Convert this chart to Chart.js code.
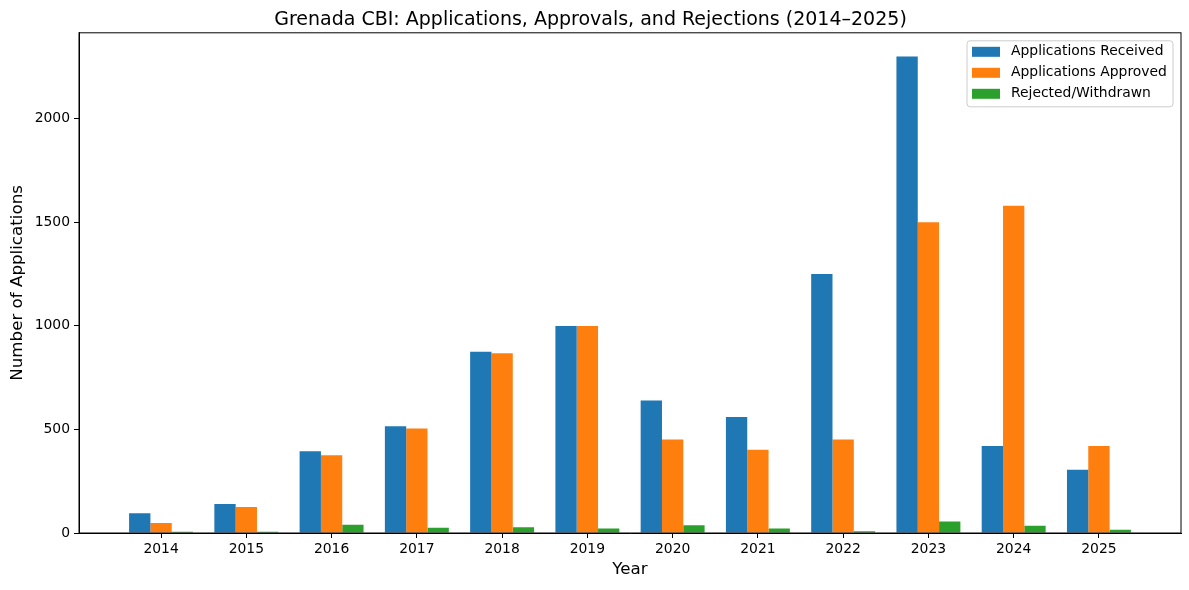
<!DOCTYPE html>
<html lang="en">
<head>
  <meta charset="UTF-8">
  <title>Grenada CBI</title>
  <style>
    body { margin: 0; background: #fff; }
    .chart-box { width: 1189px; height: 590px; }
  </style>
</head>
<body>
  <div class="chart-box">
    <canvas id="barChart"></canvas>
  </div>
  <script src="https://cdn.jsdelivr.net/npm/chart.js"></script>
  <script>
    // data
    const years = ['2014', '2015', '2016', '2017', '2018', '2019', '2020', '2021', '2022', '2023', '2024', '2025'];
    const received = [95, 140, 395, 515, 875, 1000, 640, 560, 1250, 2300, 420, 305];
    const approved = [48, 125, 375, 505, 868, 1000, 452, 402, 452, 1500, 1580, 420];
    const rejected = [6, 6, 40, 25, 28, 22, 38, 22, 8, 55, 35, 16];
    const yTicks = [0, 500, 1000, 1500, 2000];

    const toPoints = arr => arr.map((v, i) => ({ x: i, y: v }));
    const font = { family: 'DejaVu Sans', size: 13.9 };

    // frame around plot + legend inside the plot (top right)
    const frameAndLegend = {
      id: 'frameAndLegend',
      afterDatasetsDraw(chart) {
        const { ctx, chartArea: a } = chart;
        ctx.save();
        ctx.strokeStyle = '#000';
        ctx.lineWidth = 1;
        ctx.strokeRect(a.left, a.top, a.right - a.left, a.bottom - a.top);

        const w = 206, h = 66;
        const x = a.right - 8 - w, y = a.top + 8;
        ctx.beginPath();
        ctx.roundRect(x, y, w, h, 3);
        ctx.fillStyle = 'rgba(255,255,255,0.8)';
        ctx.fill();
        ctx.strokeStyle = '#cccccc';
        ctx.stroke();

        ctx.font = '13.9px "DejaVu Sans"';
        ctx.textBaseline = 'middle';
        chart.data.datasets.forEach((ds, i) => {
          const cy = y + 11 + i * 21;
          ctx.fillStyle = ds.backgroundColor;
          ctx.fillRect(x + 5, cy - 5, 28, 10);
          ctx.fillStyle = '#000';
          ctx.fillText(ds.label, x + 44, cy);
        });
        ctx.restore();
      }
    };

    const barCtx = document.getElementById('barChart').getContext('2d');
    new Chart(barCtx, {
      type: 'bar',
      data: {
        datasets: [
          { label: 'Applications Received', data: toPoints(received), backgroundColor: '#1f77b4' },
          { label: 'Applications Approved', data: toPoints(approved), backgroundColor: '#ff7f0e' },
          { label: 'Rejected/Withdrawn', data: toPoints(rejected), backgroundColor: '#2ca02c' }
        ]
      },
      options: {
        responsive: true,
        maintainAspectRatio: false,
        animation: false,
        categoryPercentage: 0.75,
        barPercentage: 1,
        layout: { padding: { left: 0, right: 8, top: 0, bottom: 0 } },
        plugins: {
          legend: { display: false },
          tooltip: { enabled: false },
          title: {
            display: true,
            text: 'Grenada CBI: Applications, Approvals, and Rejections (2014–2025)',
            color: '#000',
            font: { family: 'DejaVu Sans', size: 19, weight: 'normal' },
            padding: { top: 9, bottom: 1 }
          }
        },
        scales: {
          x: {
            type: 'linear',
            offset: false,
            bounds: 'data',
            min: -0.9625,
            max: 11.9625,
            afterBuildTicks: axis => { axis.ticks = years.map((y, i) => ({ value: i })); },
            afterFit: scale => { scale.height = 57; },
            ticks: {
              color: '#000',
              font: font,
              padding: 3,
              maxRotation: 0,
              autoSkip: false,
              callback: v => years[v]
            },
            grid: { display: true, drawOnChartArea: false, drawTicks: true, tickLength: 5, color: '#000', offset: false },
            border: { display: true, color: '#000', width: 1 },
            title: {
              display: true,
              text: 'Year',
              color: '#000',
              font: { family: 'DejaVu Sans', size: 16.7 },
              padding: { top: 0, bottom: 10 }
            }
          },
          y: {
            bounds: 'data',
            min: 0,
            max: 2415,
            afterBuildTicks: axis => { axis.ticks = yTicks.map(v => ({ value: v })); },
            afterFit: scale => { scale.width = 79; },
            ticks: { color: '#000', font: font, padding: 4, callback: v => String(v) },
            grid: { display: true, drawOnChartArea: false, drawTicks: true, tickLength: 5, color: '#000' },
            border: { display: true, color: '#000', width: 1 },
            title: {
              display: true,
              text: 'Number of Applications',
              color: '#000',
              font: { family: 'DejaVu Sans', size: 16.7 },
              padding: { top: 8, bottom: 0 }
            }
          }
        }
      },
      plugins: [frameAndLegend]
    });
  </script>
</body>
</html>
